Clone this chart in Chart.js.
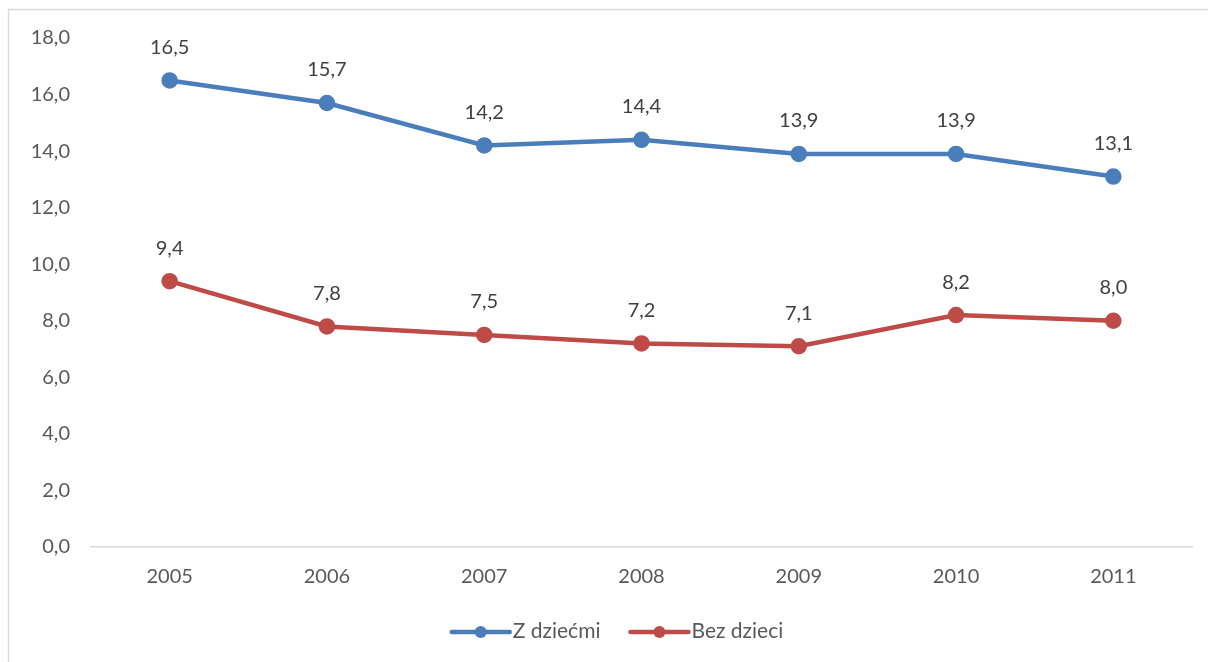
<!DOCTYPE html>
<html lang="pl">
<head>
    <meta charset="UTF-8">
    <title>Z dziećmi / Bez dzieci</title>
    <script src="https://cdn.jsdelivr.net/npm/chart.js@4.4.0/dist/chart.umd.min.js"></script>
    <style>
        html, body { margin: 0; padding: 0; background: #fff; overflow: hidden; }
        #wrap { width: 1208px; height: 662px; position: relative; }
    </style>
</head>
<body>
    <div id="wrap"><canvas id="lineChart"></canvas></div>

    <script>
        // Data
        const years = ['2005', '2006', '2007', '2008', '2009', '2010', '2011'];
        const withKids = [16.5, 15.7, 14.2, 14.4, 13.9, 13.9, 13.1];
        const noKids = [9.4, 7.8, 7.5, 7.2, 7.1, 8.2, 8.0];
        const yMin = 0;
        const yMax = 18;
        const yStep = 2;

        const FONT = 'Lato, "Open Sans", sans-serif';
        const SIZE = 20;
        const fmt = v => v.toFixed(1).replace('.', ',');

        // Outer frame, data labels above points and the legend at the bottom
        const extras = {
            id: 'extras',
            beforeDraw(chart) {
                const ctx = chart.ctx;
                ctx.save();
                ctx.strokeStyle = '#d9d9d9';
                ctx.lineWidth = 1.5;
                ctx.strokeRect(8.5, 9.5, 1400, 1000);
                ctx.restore();
            },
            afterDatasetsDraw(chart) {
                const ctx = chart.ctx;
                ctx.save();
                ctx.font = SIZE + 'px ' + FONT;
                ctx.fillStyle = '#404040';
                ctx.textAlign = 'center';
                ctx.textBaseline = 'middle';
                chart.data.datasets.forEach((ds, i) => {
                    chart.getDatasetMeta(i).data.forEach((pt, j) => {
                        ctx.fillText(fmt(ds.data[j]), pt.x, pt.y - 33);
                    });
                });

                // legend
                ctx.font = '21px ' + FONT;
                const y = 632;
                const items = chart.data.datasets.map(ds => ({ label: ds.label, color: ds.borderColor }));
                const lineLen = 58;
                const gap = 29;
                const widths = items.map(it => lineLen + 4 + ctx.measureText(it.label).width);
                const total = widths.reduce((a, b) => a + b, 0) + gap * (items.length - 1);
                let x = chart.width / 2 - total / 2 + 14;
                ctx.textAlign = 'left';
                items.forEach((it, k) => {
                    ctx.strokeStyle = it.color;
                    ctx.lineWidth = 4.5;
                    ctx.lineCap = 'round';
                    ctx.beginPath();
                    ctx.moveTo(x, y);
                    ctx.lineTo(x + lineLen, y);
                    ctx.stroke();
                    ctx.fillStyle = it.color;
                    ctx.beginPath();
                    ctx.arc(x + lineLen / 2, y, 6, 0, Math.PI * 2);
                    ctx.fill();
                    ctx.fillStyle = '#595959';
                    ctx.fillText(it.label, x + lineLen + 3, y - 1);
                    x += widths[k] + gap;
                });
                ctx.restore();
            }
        };

        const ctx = document.getElementById('lineChart').getContext('2d');
        new Chart(ctx, {
            type: 'line',
            data: {
                labels: years,
                datasets: [
                    {
                        label: 'Z dziećmi',
                        data: withKids,
                        borderColor: '#4a7ebb',
                        backgroundColor: '#4a7ebb',
                        borderWidth: 4.5,
                        pointRadius: 6,
                        pointHoverRadius: 6,
                        tension: 0
                    },
                    {
                        label: 'Bez dzieci',
                        data: noKids,
                        borderColor: '#be4b48',
                        backgroundColor: '#be4b48',
                        borderWidth: 4.5,
                        pointRadius: 6,
                        pointHoverRadius: 6,
                        tension: 0
                    }
                ]
            },
            options: {
                responsive: true,
                maintainAspectRatio: false,
                animation: false,
                layout: { padding: { top: 38, right: 16, left: 0, bottom: 0 } },
                plugins: {
                    legend: { display: false },
                    tooltip: { enabled: false }
                },
                scales: {
                    x: {
                        offset: true,
                        grid: { display: false, drawTicks: false },
                        border: { display: true, color: '#d9d9d9', width: 1.5 },
                        ticks: { color: '#595959', font: { family: FONT, size: SIZE }, padding: 18, maxRotation: 0 },
                        afterFit(scale) { scale.height = 115; }
                    },
                    y: {
                        min: yMin,
                        max: yMax,
                        grid: { display: false, drawTicks: false },
                        border: { display: false },
                        ticks: {
                            stepSize: yStep,
                            color: '#595959',
                            font: { family: FONT, size: SIZE },
                            padding: 21,
                            callback: v => fmt(v)
                        },
                        afterFit(scale) { scale.width = 91; }
                    }
                }
            },
            plugins: [extras]
        });
    </script>
</body>
</html>
